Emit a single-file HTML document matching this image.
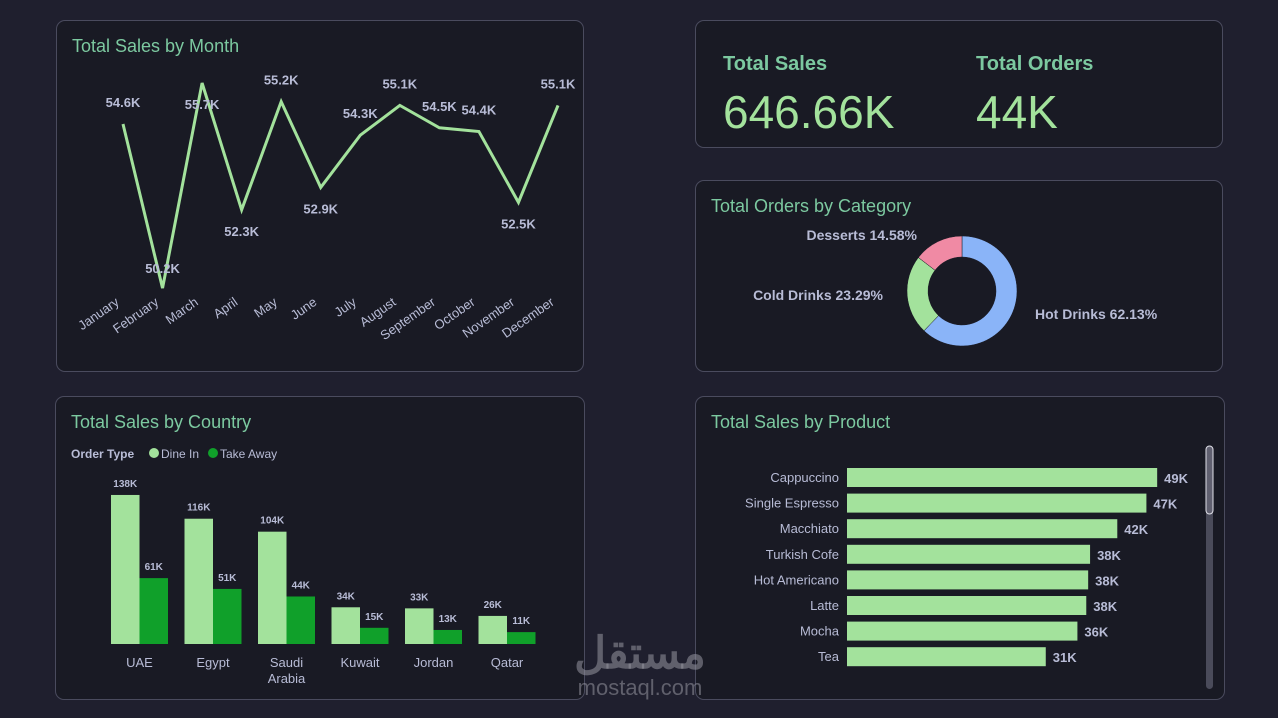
<!DOCTYPE html>
<html><head><meta charset="utf-8">
<style>
html,body{margin:0;padding:0;width:1278px;height:718px;overflow:hidden;background:#1f1f2e;font-family:"Liberation Sans",sans-serif;}
.card{position:absolute;background:#191a24;border:1px solid #4a4b5e;border-radius:9px;box-sizing:border-box;}
.title{position:absolute;left:15px;top:15px;color:#7cc9a0;font-size:18px;}
svg{position:absolute;left:0;top:0;}
.kl{position:absolute;color:#7cc9a0;font-weight:bold;font-size:20px;}
.kv{position:absolute;color:#a3e29c;font-size:46px;}
</style></head><body>
<div class="card" style="left:56px;top:20px;width:528px;height:352px;">
<div class="title">Total Sales by Month</div></div>
<div class="card" style="left:695px;top:20px;width:528px;height:128px;">
<div class="kl" style="left:27px;top:32px;">Total Sales</div>
<div class="kv" style="left:27px;top:64px;">646.66K</div>
<div class="kl" style="left:280px;top:32px;">Total Orders</div>
<div class="kv" style="left:280px;top:64px;">44K</div>
</div>
<div class="card" style="left:695px;top:180px;width:528px;height:192px;">
<div class="title">Total Orders by Category</div></div>
<div class="card" style="left:55px;top:396px;width:530px;height:304px;">
<div class="title">Total Sales by Country</div></div>
<div class="card" style="left:695px;top:396px;width:530px;height:304px;">
<div class="title">Total Sales by Product</div></div>

<svg id="chart" width="1278" height="718" font-family="Liberation Sans, sans-serif"></svg>

<div style="position:absolute;left:555px;top:632px;width:170px;text-align:center;color:rgba(150,150,160,0.55);font-family:'Liberation Sans','Noto Sans CJK SC',sans-serif;">
<div style="font-size:44px;font-weight:bold;line-height:44px;">مستقل</div>
<div style="font-size:22px;line-height:24px;">mostaql.com</div></div>

<script>
const months=["January","February","March","April","May","June","July","August","September","October","November","December"];
const monthSales=[54.6,50.2,55.7,52.3,55.2,52.9,54.3,55.1,54.5,54.4,52.5,55.1];
const countries=["UAE","Egypt","Saudi|Arabia","Kuwait","Jordan","Qatar"];
const dineIn=[138,116,104,34,33,26];
const takeAway=[61,51,44,15,13,11];
const categories=["Hot Drinks","Cold Drinks","Desserts"];
const categoryPct=[62.13,23.29,14.58];
const products=["Cappuccino","Single Espresso","Macchiato","Turkish Cofe","Hot Americano","Latte","Mocha","Tea"];
const productSales=[49,47.3,42.7,38.4,38.1,37.8,36.4,31.4];
const productLabels=["49K","47K","42K","38K","38K","38K","36K","31K"];

const svg=document.getElementById('chart');
const NS='http://www.w3.org/2000/svg';
const narrow='Liberation Sans Narrow, Liberation Sans, sans-serif';
function mk(tag,attrs,parent){const e=document.createElementNS(NS,tag);for(const k in attrs)e.setAttribute(k,attrs[k]);(parent||svg).appendChild(e);return e;}
const lab='#b8bcd6';

// line chart
const lx=i=>123+i*(558-123)/(months.length-1);
const ly=v=>83+(55.7-v)*37.3;
let d=monthSales.map((v,i)=>(i?'L':'M')+lx(i)+','+ly(v)).join(' ');
const line=mk('path',{d:d,fill:'none',stroke:'#a3e29c','stroke-width':3,'stroke-linejoin':'miter'});


const above=[1,0,1,0,1,0,1,1,1,1,0,1];
monthSales.forEach((v,i)=>{
 const t=mk('text',{x:lx(i),y:above[i]?ly(v)-17:ly(v)+26,'text-anchor':'middle',fill:lab,'font-size':13,'font-weight':'bold','font-family':narrow});
 if(i===1)t.setAttribute('y',ly(v)-15);
 if(i===2)t.setAttribute('y',ly(v)+26);
 t.textContent=v.toFixed(1)+'K';
 
 
 const m=mk('text',{x:lx(i)-3,y:304,'text-anchor':'end',fill:lab,'font-size':13,transform:'rotate(-35 '+(lx(i)-3)+' 304)'});
 m.textContent=months[i];
 
 
});

// donut
const cx=962,cy=291,ro=55,ri=34;
const cols=['#8ab4f8','#a3e29c','#f08aa4'];
let a0=0;
categoryPct.forEach((p,i)=>{
 const a1=a0+p/100*2*Math.PI;
 const pt=(r,a)=>[cx+r*Math.sin(a),cy-r*Math.cos(a)];
 const [x1,y1]=pt(ro,a0),[x2,y2]=pt(ro,a1),[x3,y3]=pt(ri,a1),[x4,y4]=pt(ri,a0);
 const lg=(a1-a0)>Math.PI?1:0;
 const s=mk('path',{d:`M${x1},${y1}A${ro},${ro} 0 ${lg} 1 ${x2},${y2}L${x3},${y3}A${ri},${ri} 0 ${lg} 0 ${x4},${y4}Z`,fill:cols[i],stroke:'#191a24','stroke-width':0.5});
 
 
 a0=a1;
});
const dl=[[1035,319,'start'],[883,300,'end'],[917,240,'end']];
categoryPct.forEach((p,i)=>{
 const t=mk('text',{x:dl[i][0],y:dl[i][1],'text-anchor':dl[i][2],fill:lab,'font-size':14,'font-weight':'bold','font-family':narrow});
 t.textContent=categories[i]+' '+p.toFixed(2)+'%';
 
 
});

// country legend
let tl=mk('text',{x:71,y:458,fill:lab,'font-size':12,'font-weight':'bold'});tl.textContent='Order Type';

mk('circle',{cx:154,cy:453,r:5,fill:'#a3e29c'});
let l1=mk('text',{x:161,y:458,fill:lab,'font-size':12});l1.textContent='Dine In';

mk('circle',{cx:213,cy:453,r:5,fill:'#10a02a'});
let l2=mk('text',{x:220,y:458,fill:lab,'font-size':12});l2.textContent='Take Away';


const base=644,ky=1.08,bw=28.5;
const gx=i=>111+i*73.5;
countries.forEach((c,i)=>{
 const h1=dineIn[i]*ky,h2=takeAway[i]*ky;
 const b1=mk('rect',{x:gx(i),y:base-h1,width:bw,height:h1,fill:'#a3e29c'});
 
 const b2=mk('rect',{x:gx(i)+bw,y:base-h2,width:bw,height:h2,fill:'#10a02a'});
 
 const t1=mk('text',{x:gx(i)+bw/2,y:base-h1-8,'text-anchor':'middle',fill:lab,'font-size':10,'font-weight':'bold'});t1.textContent=dineIn[i]+'K';
 
 const t2=mk('text',{x:gx(i)+bw*1.5,y:base-h2-8,'text-anchor':'middle',fill:lab,'font-size':10,'font-weight':'bold'});t2.textContent=takeAway[i]+'K';
 
 c.split('|').forEach((w,j)=>{
  const t=mk('text',{x:gx(i)+bw,y:667+j*16,'text-anchor':'middle',fill:lab,'font-size':13});t.textContent=w;
  
 });
});

// product bars
const px0=847,kx=6.33;
const py=i=>468+i*25.6;
products.forEach((p,i)=>{
 const w=productSales[i]*kx;
 const r=mk('rect',{x:px0,y:py(i),width:w,height:19,fill:'#a3e29c'});
 
 const t=mk('text',{x:px0-8,y:py(i)+14,'text-anchor':'end',fill:lab,'font-size':13});t.textContent=p;
 
 const v=mk('text',{x:px0+w+7,y:py(i)+15,fill:lab,'font-size':13,'font-weight':'bold','font-family':narrow});v.textContent=productLabels[i];
 
});
const st=mk('rect',{x:1206,y:446,width:7,height:243,rx:3.5,fill:'#4a4b5a'});

const sh=mk('rect',{x:1206,y:446,width:7,height:68,rx:3.5,fill:'#606070',stroke:'#e0e0e8','stroke-width':1});

</script>
</body></html>
